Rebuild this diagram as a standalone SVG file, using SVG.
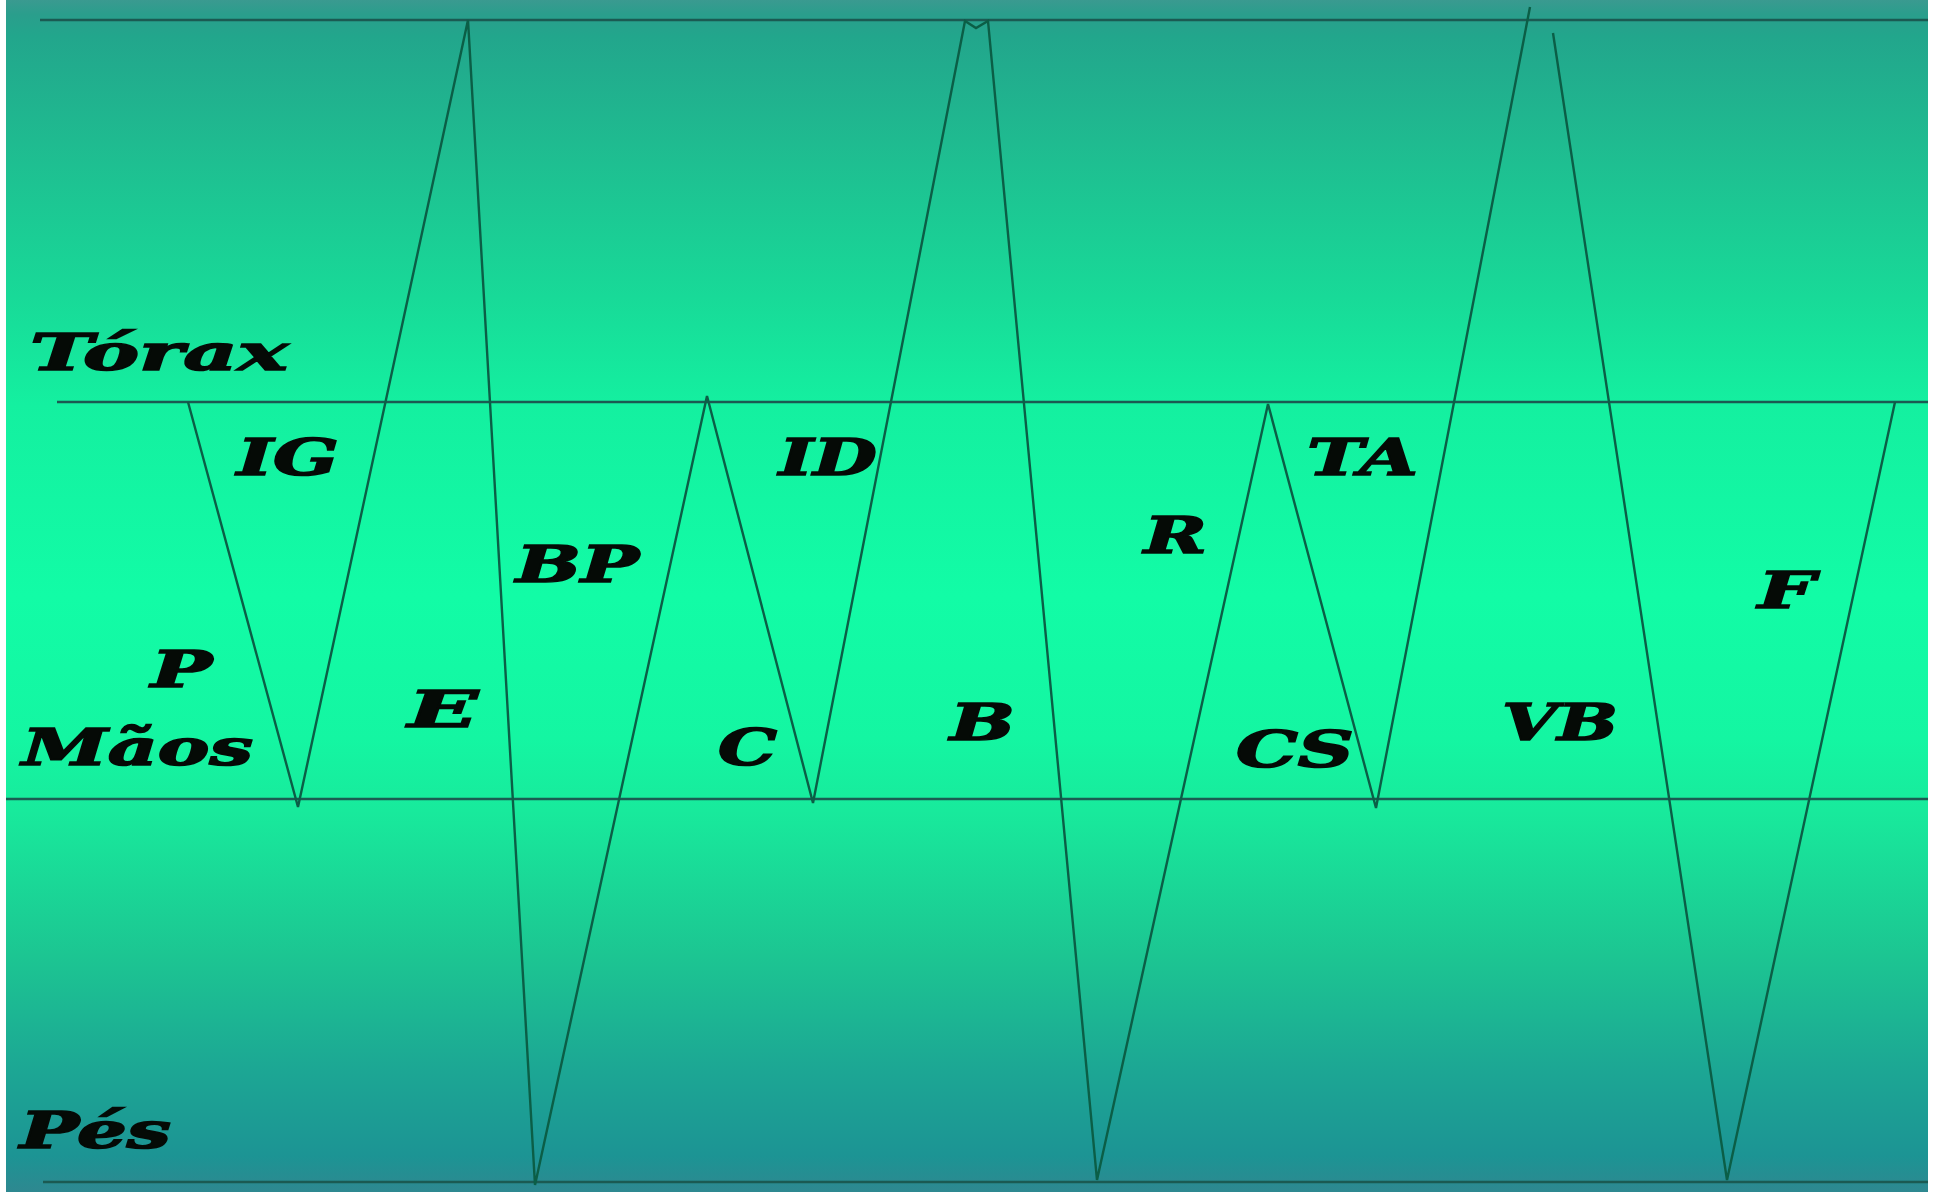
<svg xmlns="http://www.w3.org/2000/svg" width="1933" height="1192" viewBox="0 0 1933 1192">
  <defs>
    <linearGradient id="bg" x1="0" y1="0" x2="0" y2="1">
      <stop offset="0" stop-color="#3a9a90"/>
      <stop offset="0.012" stop-color="#2a9e8c"/>
      <stop offset="0.03" stop-color="#22a68c"/>
      <stop offset="0.12" stop-color="#1fbb90"/>
      <stop offset="0.25" stop-color="#18da98"/>
      <stop offset="0.34" stop-color="#14f0a0"/>
      <stop offset="0.5" stop-color="#12fca6"/>
      <stop offset="0.62" stop-color="#14f6a2"/>
      <stop offset="0.68" stop-color="#18ea9c"/>
      <stop offset="0.8" stop-color="#1cc692"/>
      <stop offset="0.9" stop-color="#1ca694"/>
      <stop offset="0.97" stop-color="#1c9494"/>
      <stop offset="1" stop-color="#2e8890"/>
    </linearGradient>
    <style>
      .rule { stroke: #1b5a52; stroke-width: 2.5; fill: none; }
      .zig { stroke: #0b5e46; stroke-width: 2.4; fill: none; stroke-linejoin: miter; }
      .lbl { font-family: "DejaVu Serif", "Liberation Serif", serif; font-weight: bold; font-style: italic; font-size: 50px; fill: #050a06; stroke: #050a06; stroke-width: 1.6; }
    </style>
  </defs>
  <rect x="0" y="0" width="1933" height="1192" fill="#ffffff"/>
  <rect x="6" y="0" width="1922" height="1192" fill="url(#bg)"/>

  <g id="connectors">
    <line class="rule" x1="40" y1="20" x2="1928" y2="20"/>
    <line class="rule" x1="57" y1="402" x2="1928" y2="402"/>
    <line class="rule" x1="6" y1="799" x2="1928" y2="799"/>
    <line class="rule" x1="43" y1="1182" x2="1928" y2="1182"/>
    <path class="zig" d="M188,402 L298,807 L468,20 L535,1185 L707,396 L813,803 L965,21 L976,28 L988,21 L1097,1180 L1268,404 L1376,808 L1530,7 M1553,33 L1727,1180 L1895,402"/>
  </g>

  <g id="level-torax"><text class="lbl" x="30" y="370" textLength="258" lengthAdjust="spacingAndGlyphs">Tórax</text></g>
  <g id="level-maos"><text class="lbl" x="22" y="765" textLength="231" lengthAdjust="spacingAndGlyphs">Mãos</text></g>
  <g id="level-pes"><text class="lbl" x="20" y="1148" textLength="151" lengthAdjust="spacingAndGlyphs">Pés</text></g>

  <g id="node-IG"><text class="lbl" x="237" y="475" textLength="102" lengthAdjust="spacingAndGlyphs">IG</text></g>
  <g id="node-P"><text class="lbl" x="151" y="687" textLength="61" lengthAdjust="spacingAndGlyphs">P</text></g>
  <g id="node-E"><text class="lbl" x="408" y="727" textLength="70" lengthAdjust="spacingAndGlyphs">E</text></g>
  <g id="node-BP"><text class="lbl" x="516" y="582" textLength="123" lengthAdjust="spacingAndGlyphs">BP</text></g>
  <g id="node-ID"><text class="lbl" x="779" y="475" textLength="98" lengthAdjust="spacingAndGlyphs">ID</text></g>
  <g id="node-C"><text class="lbl" x="718" y="765" textLength="59" lengthAdjust="spacingAndGlyphs">C</text></g>
  <g id="node-B"><text class="lbl" x="950" y="740" textLength="65" lengthAdjust="spacingAndGlyphs">B</text></g>
  <g id="node-R"><text class="lbl" x="1144" y="553" textLength="63" lengthAdjust="spacingAndGlyphs">R</text></g>
  <g id="node-CS"><text class="lbl" x="1236" y="767" textLength="118" lengthAdjust="spacingAndGlyphs">CS</text></g>
  <g id="node-TA"><text class="lbl" x="1307" y="475" textLength="111" lengthAdjust="spacingAndGlyphs">TA</text></g>
  <g id="node-VB"><text class="lbl" x="1502" y="740" textLength="116" lengthAdjust="spacingAndGlyphs">VB</text></g>
  <g id="node-F"><text class="lbl" x="1758" y="608" textLength="57" lengthAdjust="spacingAndGlyphs">F</text></g>
</svg>
